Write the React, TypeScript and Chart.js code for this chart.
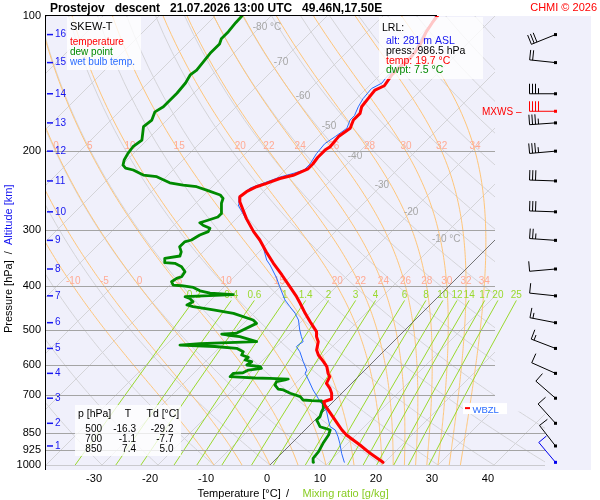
import React, { useEffect, useRef } from "react";
import { Chart, registerables } from "chart.js";

Chart.register(...registerables);

const FONT = "'Liberation Sans', Arial, Helvetica, sans-serif";
Chart.defaults.font.family = FONT;

// ---------------- text ----------------
const TITLE = "Prostejov   descent   21.07.2026 13:00 UTC   49.46N,17.50E";
const CREDIT = "CHMI © 2026";

// ---------------- sounding data (pressure hPa, temperature °C) ----------------
const TEMP_P = [986.5, 941.8, 902.6, 857.4, 835.7, 814.7, 774.0, 735.4, 723.0, 712.9, 692.3, 674.9, 657.8, 635.8, 625.0, 604.1, 588.8, 568.9, 554.6, 531.4, 517.9, 504.7, 479.8, 459.4, 436.3, 421.9, 400.8, 377.4, 355.5, 335.3, 315.4, 302.2, 282.7, 259.2, 252.6, 246.2, 240.0, 236.0, 230.1, 226.3, 218.9, 213.6, 206.6, 198.9, 195.5, 185.6, 177.9, 170.5, 164.8, 159.3, 152.8, 146.2, 143.0, 135.3, 129.9, 124.3, 119.1, 114.0, 108.8, 103.5, 100.0];
const TEMP_T = [19.7, 15.8, 12.5, 8.3, 6.6, 5.1, 2.1, -0.9, -1.7, -0.8, -1.8, -3.0, -4.5, -5.1, -6.0, -7.4, -8.9, -11.0, -12.2, -13.4, -14.6, -15.5, -18.4, -20.8, -23.5, -25.3, -28.3, -31.8, -35.4, -38.7, -42.0, -44.6, -48.2, -52.4, -53.3, -53.0, -52.1, -50.9, -49.4, -47.6, -46.1, -46.1, -46.4, -46.4, -46.1, -46.4, -45.8, -46.7, -46.7, -47.6, -47.9, -48.2, -47.3, -47.9, -47.9, -47.6, -47.9, -48.5, -49.4, -50.0, -50.3];

const WETBULB_P = [986.5, 941.8, 894.9, 865.0, 835.7, 821.8, 794.0, 760.9, 735.4, 722.8, 710.4, 680.7, 646.7, 624.8, 614.6, 588.8, 559.4, 545.2, 540.6, 531.4, 517.9, 500.4, 475.5, 459.4, 444.1, 429.0, 400.8, 383.4, 358.6, 349.5, 326.6, 310.2, 297.7, 285.0, 263.6, 253.0, 241.6, 234.9, 228.3, 223.6, 220.3, 213.6, 202.5, 192.5, 185.6, 177.9, 170.5, 166.7, 159.3, 152.8, 145.1, 141.0, 136.3, 128.6, 121.5, 110.3, 104.8, 100.0];
const WETBULB_T = [12.8, 10.7, 8.6, 7.1, 5.4, 3.9, 2.4, 0.6, -1.2, -2.4, -3.3, -5.7, -8.3, -10.1, -10.4, -12.5, -14.9, -16.4, -16.4, -16.1, -17.3, -18.8, -20.8, -22.6, -24.7, -26.8, -30.1, -32.2, -35.7, -37.2, -40.2, -43.1, -45.5, -47.9, -52.1, -53.4, -53.0, -51.3, -49.6, -47.7, -46.6, -46.6, -47.3, -47.6, -47.0, -46.4, -47.3, -47.3, -48.2, -48.8, -49.1, -48.2, -48.5, -48.2, -47.9, -49.4, -50.0, -50.6];

const DEWPT_P = [986.5, 966.2, 934.1, 894.9, 857.4, 835.7, 828.4, 821.8, 807.5, 794.0, 780.6, 760.9, 747.7, 728.8, 720.2, 719.0, 716.5, 704.5, 692.3, 680.7, 677.3, 663.5, 652.3, 646.7, 643.5, 641.1, 640.1, 637.8, 635.8, 625.0, 623.1, 614.6, 609.0, 604.1, 598.8, 588.8, 583.7, 575.7, 568.9, 559.4, 549.6, 544.6, 540.6, 536.5, 531.4, 517.9, 513.4, 510.9, 508.3, 483.7, 475.5, 459.4, 451.6, 444.1, 440.2, 432.9, 425.4, 421.9, 417.2, 414.1, 409.3, 402.2, 398.8, 397.7, 390.7, 384.0, 380.8, 371.1, 361.7, 355.5, 354.4, 346.5, 342.4, 335.3, 326.6, 318.5, 315.4, 307.5, 302.2, 297.0, 292.3, 288.7, 285.0, 280.3, 275.6, 261.3, 254.7, 250.4, 244.3, 240.0, 238.0, 235.2, 228.0, 226.1, 220.3, 218.2, 214.8, 209.3, 202.5, 195.5, 188.9, 176.4, 170.5, 163.5, 159.3, 153.9, 148.6, 141.0, 135.3, 132.0, 126.5, 121.1, 115.4, 112.4, 108.4, 103.5, 100.0];
const DEWPT_T = [7.3, 6.5, 6.3, 5.6, 5.1, 4.5, 3.3, 2.1, 1.2, 0.3, 0.3, -0.3, -0.6, -1.5, -2.2, -4.0, -5.7, -6.8, -9.2, -11.0, -12.1, -13.4, -13.7, -12.5, -12.1, -15.5, -18.2, -20.4, -22.9, -22.9, -21.3, -20.8, -18.8, -19.3, -22.0, -21.7, -23.2, -23.1, -24.7, -25.0, -26.8, -31.0, -37.5, -34.2, -24.4, -28.3, -30.9, -32.0, -29.5, -27.7, -28.9, -33.6, -37.8, -42.0, -43.4, -42.9, -44.1, -45.2, -37.0, -41.4, -43.6, -45.4, -47.8, -49.4, -50.3, -50.0, -49.4, -49.7, -51.2, -53.0, -54.9, -55.7, -53.4, -53.9, -55.1, -55.1, -54.2, -53.6, -52.7, -53.0, -54.8, -55.8, -54.8, -53.6, -53.6, -55.4, -56.0, -57.1, -60.4, -62.8, -65.5, -68.3, -71.7, -74.4, -77.1, -78.8, -79.8, -80.5, -81.0, -81.3, -80.9, -83.0, -82.7, -83.6, -83.0, -83.0, -83.0, -83.3, -83.9, -83.6, -83.9, -84.2, -84.2, -84.8, -84.8, -85.1, -85.2];

// ---------------- axes ----------------
const PRESSURE_TICKS = [100, 200, 300, 400, 500, 600, 700, 850, 925, 1000];
const TEMP_TICKS = [-30, -20, -10, 0, 10, 20, 30, 40];
const ALT_KM = [1, 2, 3, 4, 5, 6, 7, 8, 9, 10, 11, 12, 13, 14, 15, 16];
const ALT_P = [907, 807.5, 710, 625, 550, 482, 420, 366, 316, 273, 233, 200, 173, 149, 127, 110];

// ---------------- wind (barbs) ----------------
const WIND_P = [986.5, 907, 807.5, 710, 625, 550, 482, 420, 366, 316, 273, 233, 200, 173, 149, 127, 110];
const WIND_DIR = [320, 322, 318, 311, 294, 291, 281, 276, 265, 274, 272, 272, 265, 266, 270, 276, 248];
const WIND_KT = [10, 10, 10, 10, 10, 15, 15, 10, 10, 25, 30, 30, 35, 35, 35, 20, 30];
const MXWS_P = [163];
const MXWS_DIR = [270];
const MXWS_KT = [40];
const WBZL_P = [747];

// ---------------- reference lines of the diagram ----------------
const ISOTHERMS = [-130, -120, -110, -100, -90, -80, -70, -60, -50, -40, -30, -20, -10, 0, 10, 20, 30, 40, 50];
const DRY_ADIABATS = [-40, -30, -20, -10, 0, 10, 20, 30, 40, 50, 60, 70, 80, 90, 100, 110, 120, 130, 140, 150, 160, 170, 180];
const MOIST_ADIABATS = [-10, -5, 0, 5, 10, 15, 20, 22, 24, 26, 28, 30, 32, 34];
const MOIST_LABELS_200 = [0, 5, 10, 15, 20, 22, 24, 26, 28, 30, 32, 34];
const MOIST_LABELS_400 = [-10, -5, 0, 5, 10, 15, 20, 22, 24, 26, 28, 30, 32, 34];
const MIXING_RATIOS = [0.2, 0.4, 0.6, 1, 1.4, 2, 3, 4, 6, 8, 10, 12, 14, 17, 20, 25];
const ISOTHERM_LABEL_T = [-80, -70, -60, -50, -40, -30, -20, -10];
const ISOTHERM_LABEL_P = [105.8, 126.6, 150.7, 175.8, 205, 238, 273, 315];

// ---------------- info boxes ----------------
const TABLE_P = [500, 700, 850];
const TABLE_T = [-16.3, -1.1, 7.4];
const TABLE_TD = [-29.2, -7.7, 5.0];
const LRL_ALT = 281;
const LRL_PRESS = 986.5;
const LRL_TEMP = 19.7;
const LRL_DWPT = 7.5;

// skew: degrees C per unit of ln(1000/p)
const SKEW = 34.82;
const skewX = (T: number, p: number) => T + SKEW * Math.log(1000 / p);

// colours
const BG = "#f0f0fb";
const LIGHT = "#d4d4d8";
const PLINE = "#a4a4a4";
const ORANGE = "#ffc67a";
const MIXG = "#9ad92e";
const MOIST_LBL = "#ffab95";
const RED = "#ff0000";
const GREEN = "#008a00";
const WBLUE = "#2a6cff";
const DBLUE = "#1515f0";

function dTdp(TK: number, p: number) {
  const Rd = 287.04, Cp = 1005.7, L = 2.501e6, eps = 0.622;
  const Tc = TK - 273.15;
  const es = 6.112 * Math.exp((17.67 * Tc) / (Tc + 243.5));
  const rs = (eps * es) / (p - es);
  const num = (Rd * TK + L * rs) / p;
  const den = Cp + (L * L * rs * eps) / (Rd * TK * TK);
  return num / den;
}

function moistCurve(thetaW: number) {
  const out: { p: number; T: number }[] = [];
  let T = thetaW + 273.15;
  for (let p = 1000; p >= 100; p -= 5) {
    out.push({ p, T: T - 273.15 });
    const dp = -5;
    const k1 = dTdp(T, p);
    const k2 = dTdp(T + (k1 * dp) / 2, p + dp / 2);
    T += k2 * dp;
  }
  return out;
}

function mixTd(w: number, p: number) {
  const e = (w * p) / (622 + w);
  const l = Math.log(e / 6.112);
  return (243.5 * l) / (17.67 - l);
}

const MOIST_CURVES = MOIST_ADIABATS.map((t) => moistCurve(t));
const SAMPLE_P = Array.from({ length: 91 }, (_, i) => 1000 - i * 10);

function drawBarb(ctx: any, x: number, y: number, dir: number, kt: number, color: string) {
  const r = (dir * Math.PI) / 180;
  const ux = Math.sin(r), uy = -Math.cos(r);
  const L = 26;
  const ex = x + ux * L, ey = y + uy * L;
  const bx = -uy, by = ux;
  ctx.strokeStyle = color;
  ctx.fillStyle = color;
  ctx.lineWidth = 1;
  ctx.beginPath();
  ctx.moveTo(x, y);
  ctx.lineTo(ex, ey);
  let rem = Math.round(kt / 5) * 5;
  let pos = 0;
  while (rem >= 10) {
    const sx = ex - ux * pos, sy = ey - uy * pos;
    ctx.moveTo(sx, sy);
    ctx.lineTo(sx + bx * 10, sy + by * 10);
    pos += 3;
    rem -= 10;
  }
  if (rem >= 5) {
    if (pos === 0) pos = 3;
    const sx = ex - ux * pos, sy = ey - uy * pos;
    ctx.moveTo(sx, sy);
    ctx.lineTo(sx + bx * 5.5, sy + by * 5.5);
  }
  ctx.stroke();
  ctx.fillRect(x - 1.5, y - 1.5, 3, 3);
}

const skewtPlugin = {
  id: "skewt",
  beforeDraw(chart: any) {
    const { ctx, chartArea: a } = chart;
    ctx.save();
    ctx.fillStyle = "#ffffff";
    ctx.fillRect(0, 0, chart.width, chart.height);
    ctx.fillStyle = BG;
    ctx.fillRect(a.left, a.top, a.right - a.left, a.bottom - a.top);
    ctx.restore();
  },
  beforeDatasetsDraw(chart: any) {
    const { ctx, chartArea: a, scales } = chart;
    const xs = scales.x, ys = scales.y;
    const pt = (T: number, p: number) => [xs.getPixelForValue(skewX(T, p)), ys.getPixelForValue(p)];
    const path = (pts: number[][]) => {
      ctx.beginPath();
      pts.forEach(([x, y], i) => (i ? ctx.lineTo(x, y) : ctx.moveTo(x, y)));
      ctx.stroke();
    };
    const y1000 = ys.getPixelForValue(1000);
    const ySplit = ys.getPixelForValue(760);
    const rUp = a.left + 450, rLow = a.left + 500;
    const grayClip = () => {
      ctx.beginPath();
      ctx.moveTo(a.left, a.top);
      ctx.lineTo(rUp, a.top);
      ctx.lineTo(rUp, ySplit);
      ctx.lineTo(rLow, ySplit);
      ctx.lineTo(rLow, y1000 + 0.6);
      ctx.lineTo(a.left, y1000 + 0.6);
      ctx.closePath();
      ctx.clip();
    };

    // isotherms + dry adiabats
    ctx.save();
    grayClip();
    ctx.lineWidth = 1;
    ctx.strokeStyle = LIGHT;
    ISOTHERMS.forEach((T) => path([pt(T, 1000), pt(T, 100)]));
    DRY_ADIABATS.forEach((th) =>
      path(SAMPLE_P.map((p) => pt((th + 273.15) * Math.pow(p / 1000, 0.2857) - 273.15, p)))
    );
    ctx.restore();

    // moist adiabats + mixing ratio lines
    ctx.save();
    ctx.beginPath();
    ctx.rect(a.left, a.top, a.right - a.left, y1000 - a.top);
    ctx.clip();
    ctx.lineWidth = 1;
    ctx.strokeStyle = ORANGE;
    MOIST_CURVES.forEach((c) => path(c.map((q) => pt(q.T, q.p))));
    ctx.strokeStyle = MIXG;
    MIXING_RATIOS.forEach((w) => path([1000, 850, 700, 550, 430].map((p) => pt(mixTd(w, p), p))));
    ctx.restore();

    // pressure lines + 0 °C isotherm
    ctx.save();
    grayClip();
    ctx.lineWidth = 1;
    ctx.strokeStyle = PLINE;
    PRESSURE_TICKS.filter((p) => p > 100).forEach((p) => {
      const y = Math.round(ys.getPixelForValue(p)) + 0.5;
      ctx.beginPath();
      ctx.moveTo(a.left, y);
      ctx.lineTo(a.right, y);
      ctx.stroke();
    });
    ctx.strokeStyle = "#5a5a5a";
    ctx.lineWidth = 0.8;
    path([pt(0, 1000), pt(0, 100)]);
    ctx.restore();

    // labels
    ctx.save();
    ctx.font = `10px ${FONT}`;
    ctx.textBaseline = "alphabetic";
    ctx.textAlign = "center";
    ctx.fillStyle = MOIST_LBL;
    const moistLabel = (list: number[], p: number) => {
      list.forEach((t) => {
        const c = MOIST_CURVES[MOIST_ADIABATS.indexOf(t)];
        const q = c.find((v) => v.p === p);
        if (!q) return;
        const [x, y] = pt(q.T, p);
        if (x > a.left - 12 && x < rUp) ctx.fillText(String(t), Math.max(x, a.left + 7), y - 2);
      });
    };
    moistLabel(MOIST_LABELS_200, 200);
    moistLabel(MOIST_LABELS_400, 400);

    ctx.fillStyle = MIXG;
    MIXING_RATIOS.forEach((w) => {
      const [x, y] = pt(mixTd(w, 430), 430);
      ctx.fillText(String(w), x, y - 2);
    });

    ctx.fillStyle = "#a6a6a6";
    ctx.textAlign = "left";
    ctx.textBaseline = "middle";
    ISOTHERM_LABEL_T.forEach((T, i) => {
      const [x, y] = pt(T, ISOTHERM_LABEL_P[i]);
      const num = String(T);
      const w = ctx.measureText(num).width;
      const txt = i === 0 || i === ISOTHERM_LABEL_T.length - 1 ? `${num} °C` : num;
      ctx.fillText(txt, x - w / 2, y);
    });
    ctx.restore();
  },
  afterDatasetsDraw(chart: any) {
    const { ctx, chartArea: a, scales } = chart;
    const ys = scales.y;
    ctx.save();

    // frame lines
    ctx.strokeStyle = "#000";
    ctx.lineWidth = 1;
    ctx.beginPath();
    ctx.moveTo(a.left + 0.5, a.top - 1);
    ctx.lineTo(a.left + 0.5, a.bottom);
    ctx.moveTo(a.left, a.top - 0.5);
    ctx.lineTo(437, a.top - 0.5);
    ctx.stroke();

    // semi-transparent boxes
    ctx.fillStyle = "rgba(255,255,255,0.78)";
    ctx.fillRect(67, 17, 74, 53);
    ctx.fillRect(379, 17, 104, 62);
    ctx.fillRect(75, 405, 106, 51);

    ctx.textBaseline = "alphabetic";
    ctx.textAlign = "left";
    // legend
    ctx.font = `11px ${FONT}`;
    ctx.fillStyle = "#000";
    ctx.fillText("SKEW-T", 70, 30);
    ctx.font = `10px ${FONT}`;
    ctx.fillStyle = RED;
    ctx.fillText("temperature", 70, 45);
    ctx.fillStyle = GREEN;
    ctx.fillText("dew point", 70, 55);
    ctx.fillStyle = WBLUE;
    ctx.fillText("wet bulb temp.", 70, 65);

    // LRL
    ctx.font = `10.5px ${FONT}`;
    ctx.fillStyle = "#000";
    ctx.fillText("LRL:", 382, 31);
    ctx.fillStyle = DBLUE;
    ctx.fillText(`alt: ${LRL_ALT} m ASL`, 386, 43.5);
    ctx.fillStyle = "#000";
    ctx.fillText(`press: ${LRL_PRESS.toFixed(1)} hPa`, 386, 53.5);
    ctx.fillStyle = RED;
    ctx.fillText(`temp: ${LRL_TEMP.toFixed(1)} °C`, 386, 63.5);
    ctx.fillStyle = GREEN;
    ctx.fillText(`dwpt: ${LRL_DWPT.toFixed(1)} °C`, 386, 73);

    // table
    ctx.fillStyle = "#000";
    ctx.font = `10.5px ${FONT}`;
    ctx.fillText("p [hPa]", 78, 417);
    ctx.textAlign = "center";
    ctx.fillText("T", 128, 417);
    ctx.textAlign = "left";
    ctx.fillText("Td [°C]", 146.5, 417);
    ctx.font = `10px ${FONT}`;
    ctx.textAlign = "right";
    TABLE_P.forEach((p, i) => {
      const yb = 431.5 + i * 10;
      ctx.fillText(String(p), 102, yb);
      ctx.fillText(TABLE_T[i].toFixed(1), 136, yb);
      ctx.fillText(TABLE_TD[i].toFixed(1), 173.5, yb);
    });

    // WBZL marker
    const yw = ys.getPixelForValue(WBZL_P[0]);
    ctx.fillStyle = "#ffffff";
    ctx.fillRect(463, yw - 5, 44, 11);
    ctx.fillStyle = RED;
    ctx.fillRect(465, yw - 1, 5, 2);
    ctx.fillStyle = WBLUE;
    ctx.textAlign = "left";
    ctx.font = `9.5px ${FONT}`;
    ctx.fillText("WBZL", 472.5, yw + 4.5);

    // MXWS label
    const ym = ys.getPixelForValue(MXWS_P[0]);
    ctx.fillStyle = RED;
    ctx.font = `10px ${FONT}`;
    ctx.fillText("MXWS –", 482, ym + 4);

    // wind barbs
    const bx = a.right - 35.5;
    WIND_P.forEach((p, i) => {
      drawBarb(ctx, bx, ys.getPixelForValue(p), WIND_DIR[i], WIND_KT[i], i === 0 ? "#0000ee" : "#000000");
    });
    drawBarb(ctx, bx, ym, MXWS_DIR[0], MXWS_KT[0], RED);

    // altitude km labels
    ctx.font = `10px ${FONT}`;
    ctx.textBaseline = "middle";
    ctx.fillStyle = DBLUE;
    ALT_KM.forEach((km, i) => {
      const y = ys.getPixelForValue(ALT_P[i]);
      ctx.fillRect(a.left + 2, y - 0.75, 6, 1.5);
      ctx.fillText(String(km), a.left + 10, y);
    });
    ctx.restore();
  },
  afterDraw(chart: any) {
    const { ctx } = chart;
    ctx.save();
    ctx.textBaseline = "alphabetic";
    ctx.textAlign = "left";
    ctx.font = `bold 12px ${FONT}`;
    ctx.fillStyle = "#000";
    ctx.fillText(TITLE, 50, 12);
    ctx.font = `11px ${FONT}`;
    ctx.fillStyle = RED;
    ctx.textAlign = "right";
    ctx.fillText(CREDIT, 597, 11);

    // x axis title
    ctx.textAlign = "left";
    ctx.fillStyle = "#000";
    ctx.fillText("Temperature [°C]", 197.5, 497);
    ctx.fillText("/", 286, 497);
    ctx.fillStyle = "#88cc22";
    ctx.fillText("Mixing ratio [g/kg]", 302.5, 497);

    // y axis title (rotated)
    ctx.translate(11.5, 333);
    ctx.rotate(-Math.PI / 2);
    ctx.fillStyle = "#000";
    const t1 = "Pressure [hPa]  /  ";
    ctx.fillText(t1, 0, 0);
    const w1 = ctx.measureText(t1).width;
    ctx.fillStyle = DBLUE;
    ctx.fillText("Altitude [km]", w1, 0);
    ctx.restore();
  },
};

const toPts = (P: number[], T: number[]) =>
  P.slice(0, Math.min(P.length, T.length)).map((p, i) => ({ x: skewX(T[i], p), y: p }));

const X_MIN = (45 - 270) / 5.6;
const X_MAX = (591 - 270) / 5.6;

export default function App() {
  const ref = useRef<HTMLCanvasElement>(null);
  useEffect(() => {
    const canvas = ref.current;
    if (!canvas) return;
    const lineDs = (label: string, data: any[], color: string, width: number) => ({
      label,
      data,
      borderColor: color,
      backgroundColor: color,
      borderWidth: width,
      showLine: true,
      pointRadius: 0,
      fill: false,
      tension: 0,
      borderJoinStyle: "round",
      borderCapStyle: "round",
    });
    const chart = new Chart(canvas, {
      type: "scatter",
      data: {
        datasets: [
          lineDs("temperature", toPts(TEMP_P, TEMP_T), RED, 3),
          lineDs("dew point", toPts(DEWPT_P, DEWPT_T), GREEN, 2.8),
          lineDs("wet bulb temp.", toPts(WETBULB_P, WETBULB_T), WBLUE, 1),
        ],
      } as any,
      options: {
        animation: false,
        responsive: false,
        events: [],
        layout: { padding: { left: 0, top: 16, right: 9, bottom: 0 } },
        plugins: {
          legend: { display: false },
          tooltip: { enabled: false },
          title: { display: false },
        },
        scales: {
          x: {
            type: "linear",
            min: X_MIN,
            max: X_MAX,
            afterBuildTicks: (s: any) => {
              s.ticks = TEMP_TICKS.map((v) => ({ value: v }));
            },
            afterFit: (s: any) => {
              s.height = 30;
            },
            grid: { display: false, drawTicks: false },
            border: { display: false },
            ticks: {
              align: "end",
              padding: 2,
              color: "#000",
              font: { size: 11, family: FONT },
              maxRotation: 0,
              autoSkip: false,
              callback: (v: any) => String(v),
            },
          },
          y: {
            type: "logarithmic",
            reverse: true,
            min: 100,
            max: 1026,
            afterBuildTicks: (s: any) => {
              s.ticks = PRESSURE_TICKS.map((v) => ({ value: v }));
            },
            afterFit: (s: any) => {
              s.width = 45;
            },
            grid: { display: false, drawTicks: false },
            border: { display: false },
            ticks: {
              padding: 4,
              color: "#000",
              font: { size: 11, family: FONT },
              autoSkip: false,
              callback: (v: any) => String(v),
            },
          },
        },
      } as any,
      plugins: [skewtPlugin as any],
    });
    return () => chart.destroy();
  }, []);
  return (
    <div style={{ position: "fixed", left: 0, top: 0, width: 600, height: 500, background: "#fff" }}>
      <canvas ref={ref} width={600} height={500} style={{ display: "block", width: 600, height: 500 }} />
    </div>
  );
}
